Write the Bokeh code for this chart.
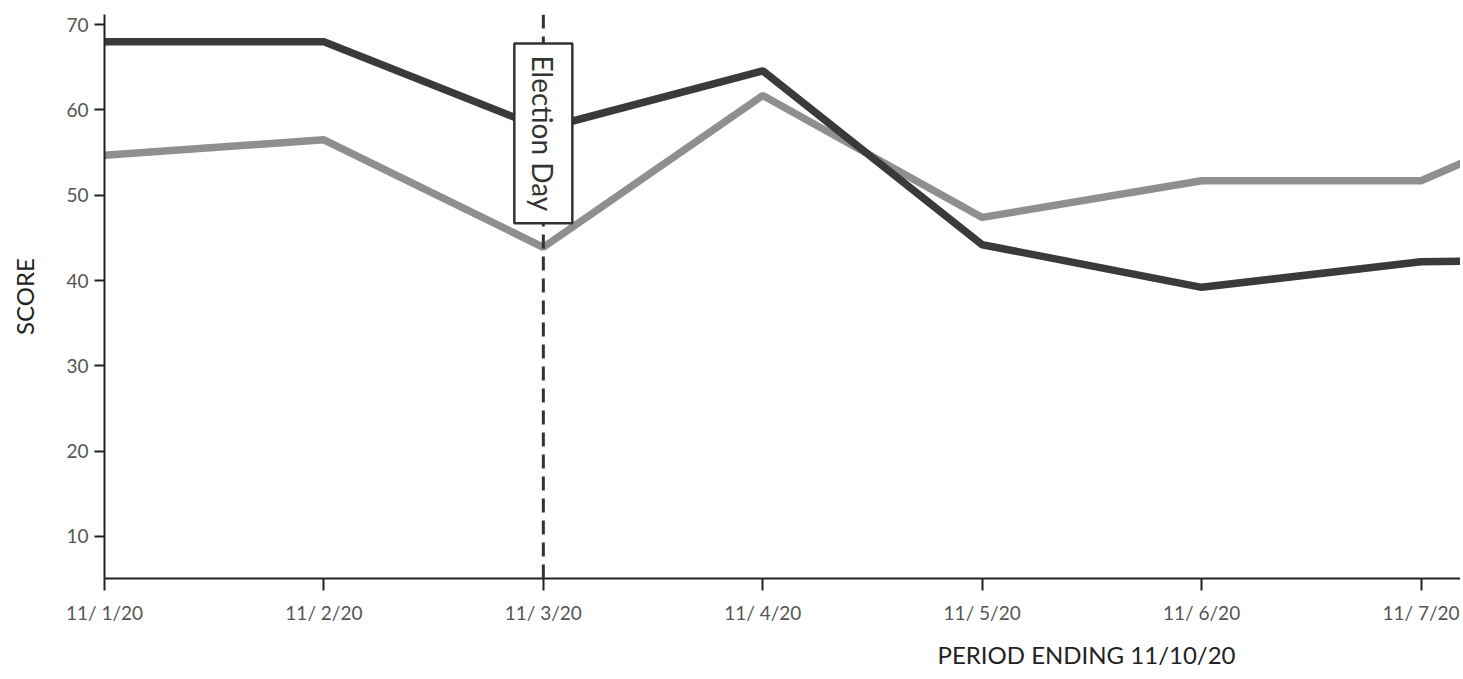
import math
from datetime import datetime
from bokeh.plotting import figure
from bokeh.models import (Range1d, Span, Label, Title, FixedTicker,
                          DatetimeTickFormatter, ColumnDataSource)
from bokeh.embed import file_html
from bokeh.resources import INLINE

# ---- data ----
dates = ["2020-11-01", "2020-11-02", "2020-11-03", "2020-11-04",
         "2020-11-05", "2020-11-06", "2020-11-07", "2020-11-08"]
dark_scores = [68.0, 68.0, 57.8, 64.6, 44.2, 39.2, 42.2, 42.5]
gray_scores = [54.7, 56.5, 43.9, 61.7, 47.4, 51.7, 51.7, 62.9]
election_day = "2020-11-03"
election_label = "Election Day"
y_label = "SCORE"
x_label = "PERIOD ENDING 11/10/20"
y_ticks = [10, 20, 30, 40, 50, 60, 70]

FONT = "Lato"
DAY = 86400000.0

xs = [datetime.strptime(d, "%Y-%m-%d") for d in dates]
ed = datetime.strptime(election_day, "%Y-%m-%d")
t0 = xs[0].timestamp() * 1000

src = ColumnDataSource(dict(x=xs, dark=dark_scores, gray=gray_scores))

p = figure(width=1460, height=679, x_axis_type="datetime",
           output_backend="svg", toolbar_location=None,
           x_range=Range1d(t0, t0 + 6.18 * DAY),
           y_range=Range1d(5.05, 71.2),
           min_border_left=104, min_border_right=0, min_border_top=14,
           min_border_bottom=101)
p.outline_line_color = None
p.xgrid.grid_line_color = None
p.ygrid.grid_line_color = None
p.background_fill_color = "white"
p.border_fill_color = "white"

p.line("x", "gray", source=src, line_color="#8f8f8f", line_width=7.5)
p.line("x", "dark", source=src, line_color="#3a3a3a", line_width=7.5)

span = Span(location=ed.timestamp() * 1000, dimension="height",
            line_color="#333333", line_width=3, line_dash="14 8")
p.add_layout(span)

lbl = Label(x=ed.timestamp() * 1000, y=67.8, text=election_label,
            angle=-math.pi / 2, angle_units="rad",
            text_align="left", text_baseline="middle",
            text_font=FONT, text_font_size="28px", text_color="#333333",
            border_line_color="#333333", border_line_width=2.5,
            background_fill_color="white", padding=12)
p.add_layout(lbl)

# axes
p.xaxis.ticker = FixedTicker(ticks=[x.timestamp() * 1000 for x in xs])
p.xaxis.formatter = DatetimeTickFormatter(days="%m/%e/%y", months="%m/%e/%y",
                                          hours="%m/%e/%y")
p.yaxis.ticker = FixedTicker(ticks=y_ticks)

for ax in (p.xaxis[0], p.yaxis[0]):
    ax.axis_line_color = "#222222"
    ax.axis_line_width = 2
    ax.major_tick_line_color = "#222222"
    ax.major_tick_line_width = 2
    ax.minor_tick_line_color = None
    ax.major_tick_in = 0
    ax.major_label_text_font = FONT
    ax.major_label_text_font_size = "19px"
    ax.major_label_text_color = "#555555"

p.xaxis.major_tick_out = 12
p.yaxis.major_tick_out = 10
p.xaxis.major_label_standoff = 10
p.yaxis.major_label_standoff = 6

p.yaxis.axis_label = y_label
p.yaxis.axis_label_text_font = FONT
p.yaxis.axis_label_text_font_size = "24px"
p.yaxis.axis_label_text_font_style = "normal"
p.yaxis.axis_label_text_color = "#222222"
p.yaxis.axis_label_standoff = 24

t = Title(text=x_label, align="left", offset=833,
          text_font=FONT, text_font_size="24px", text_font_style="normal",
          text_color="#222222", standoff=22)
p.add_layout(t, "below")

open("out.html", "w").write(file_html(p, INLINE))
